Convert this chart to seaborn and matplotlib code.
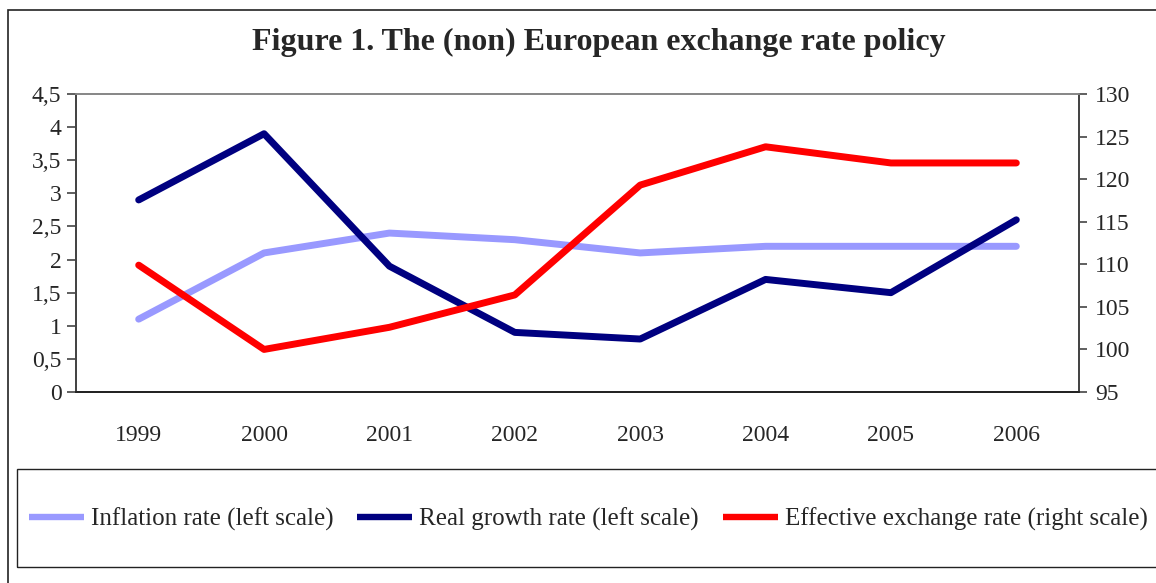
import matplotlib
matplotlib.use("Agg")
import matplotlib.pyplot as plt
import matplotlib.ticker as mticker
from matplotlib.patches import Rectangle
from matplotlib.lines import Line2D
import seaborn as sns
import pandas as pd

years = ["1999", "2000", "2001", "2002", "2003", "2004", "2005", "2006"]
inflation = [1.1, 2.1, 2.4, 2.3, 2.1, 2.2, 2.2, 2.2]
growth = [2.9, 3.9, 1.9, 0.9, 0.8, 1.7, 1.5, 2.6]
exchange = [109.9, 100.0, 102.6, 106.4, 119.3, 123.8, 121.9, 121.9]

labels = ["Inflation rate (left scale)", "Real growth rate (left scale)",
          "Effective exchange rate (right scale)"]
colors = ["#9999FF", "#000080", "#FF0000"]

sns.set_style("white")
plt.rcParams['font.family'] = ['Liberation Serif', 'DejaVu Serif']
plt.rcParams['font.size'] = 17

df = pd.DataFrame({"pos": range(len(years)), "inflation": inflation,
                   "growth": growth, "exchange": exchange})

W, H = 1156, 583
fig = plt.figure(figsize=(W / 100, H / 100), dpi=100)
ax = fig.add_axes([76 / W, 1 - 392 / H, (1079 - 76) / W, (392 - 94) / H])
ax2 = ax.twinx()

lw = 5.0
sns.lineplot(data=df, x="pos", y="inflation", ax=ax, color=colors[0], lw=lw)
sns.lineplot(data=df, x="pos", y="growth", ax=ax, color=colors[1], lw=lw)
sns.lineplot(data=df, x="pos", y="exchange", ax=ax2, color=colors[2], lw=lw)

ax.set_xlim(-0.5, len(years) - 0.5)
ax.set_ylim(0, 4.5)
ax2.set_ylim(95, 130)
ax.set_yticks([i * 0.5 for i in range(10)])
ax.yaxis.set_major_formatter(mticker.FuncFormatter(
    lambda v, p: f"{v:g}".replace(".", ",")))
ax2.set_yticks(range(95, 131, 5))
ax.set_xticks(range(len(years)))
ax.set_xticklabels(years)
for a in (ax, ax2):
    a.set_xlabel("")
    a.set_ylabel("")
ax.tick_params(axis="x", length=0, pad=24, labelsize=17)
ax.tick_params(axis="y", direction="out", length=6.5, width=1.2, color="#444444",
               left=True, labelsize=17, pad=4)
ax2.tick_params(axis="y", direction="out", length=5.5, width=1.2, color="#444444",
                right=True, labelsize=17, pad=6)

for a in (ax, ax2):
    a.spines["top"].set_color("#888888")
    a.spines["left"].set_color("#444444")
    a.spines["right"].set_color("#444444")
    a.spines["bottom"].set_color("#222222")
    for s in a.spines.values():
        s.set_linewidth(1.3)

fig.text(599 / W, 1 - 42 / H, "Figure 1. The (non) European exchange rate policy",
         ha="center", va="center", fontsize=23, fontweight="bold")

# outer frame and legend box
fig.patches.append(Rectangle((8 / W, -0.1), 1.2, 1 - 10 / H + 0.1,
                             transform=fig.transFigure, fill=False,
                             edgecolor="#222222", lw=1.2))
fig.patches.append(Rectangle((17 / W, 1 - 567 / H), 1.2, (567 - 469) / H,
                             transform=fig.transFigure, fill=False,
                             edgecolor="#222222", lw=1.0))

handles = [Line2D([0], [0], color=c, lw=4.6, solid_capstyle="butt")
           for c in colors]
leg = fig.legend(handles, labels, loc="center left",
                 bbox_to_anchor=(29 / W, 1 - 519 / H), ncol=3, frameon=False,
                 fontsize=18, handlelength=2.2, handletextpad=0.28,
                 columnspacing=0.95, borderpad=0, borderaxespad=0)

fig.savefig("out.png", dpi=100)
